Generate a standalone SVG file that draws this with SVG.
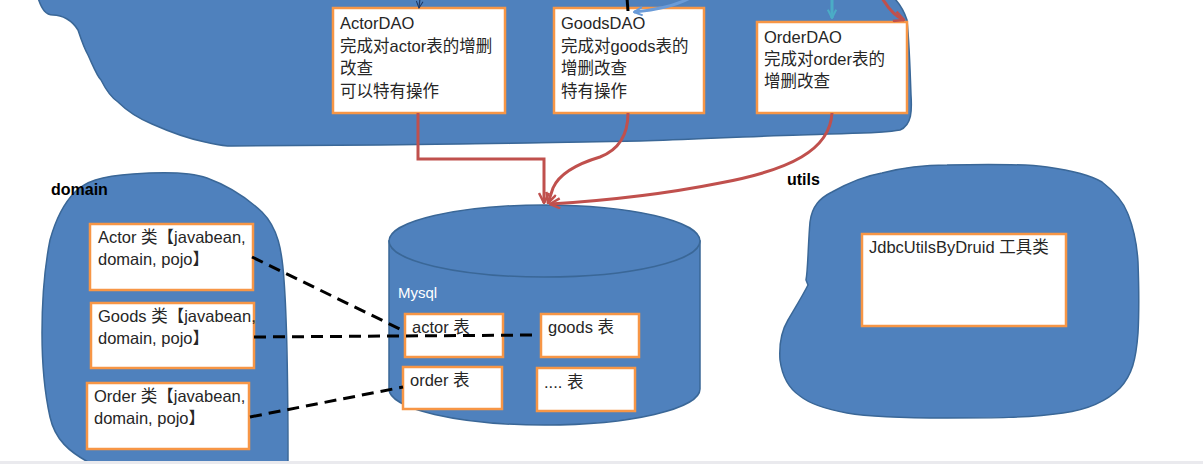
<svg xmlns="http://www.w3.org/2000/svg" width="1203" height="464" viewBox="0 0 1203 464">
<style>
.blob{fill:#4F81BD;stroke:#3A6797;stroke-width:1.5}
.box{fill:#fff;stroke:#F79646;stroke-width:2.5}
.t{font-family:"Liberation Sans","Noto Sans CJK SC",sans-serif;font-size:16.5px;fill:#262626}
.lbl{font-family:"Liberation Sans","Noto Sans CJK SC",sans-serif;font-size:16px;font-weight:bold;fill:#000}
.red{fill:none;stroke:#C0504D;stroke-width:3}
.dash{fill:none;stroke:#000;stroke-width:3;stroke-dasharray:12 7}
</style>
<defs>
<marker id="ar" viewBox="0 0 12 12" refX="11" refY="6" markerWidth="12" markerHeight="12" markerUnits="userSpaceOnUse" orient="auto">
<path d="M1,1 L11,6 L1,11" fill="none" stroke="#C0504D" stroke-width="2.5"/>
</marker>
<marker id="at" viewBox="0 0 12 12" refX="11" refY="6" markerWidth="10" markerHeight="10" markerUnits="userSpaceOnUse" orient="auto">
<path d="M1,1 L11,6 L1,11" fill="none" stroke="#4BACC6" stroke-width="2.5"/>
</marker>
<marker id="ab" viewBox="0 0 12 12" refX="11" refY="6" markerWidth="10" markerHeight="10" markerUnits="userSpaceOnUse" orient="auto">
<path d="M1,1 L11,6 L1,11" fill="none" stroke="#6A9BD8" stroke-width="2.5"/>
</marker>
<marker id="ad" viewBox="0 0 12 12" refX="11" refY="6" markerWidth="8" markerHeight="8" markerUnits="userSpaceOnUse" orient="auto">
<path d="M1,1 L11,6 L1,11" fill="none" stroke="#1F3864" stroke-width="1.5"/>
</marker>
</defs>
<rect x="0" y="0" width="1203" height="464" fill="#fff"/>

<g id="dao-package">
<path class="blob" d="M38,-2 C42,10 46,15 53,15 C62,15 72,20 78,30 C82,42 84,48 88,55 C94,68 97,76 101,80 C107,92 112,98 118,102 C128,112 140,119 152,124 C170,132 190,139 205,142 C215,144 222,146 232,146 L380,145 C460,144 560,143 640,141 C700,139 757,136 800,135 C840,133 880,134 900,130 C912,125 912,110 911,95 C910,65 909,40 907,20 C903,8 898,2 894,-2 Z"/>
</g>
<g id="actordao">
<rect class="box" x="333" y="8" width="172" height="105"/>
<text class="t" x="340" y="29">ActorDAO</text>
<text class="t" x="340" y="52">完成对actor表的增删</text>
<text class="t" x="340" y="74">改查</text>
<text class="t" x="340" y="97">可以特有操作</text>
</g>
<g id="goodsdao">
<rect class="box" x="554" y="8" width="150" height="105"/>
<text class="t" x="561" y="29">GoodsDAO</text>
<text class="t" x="561" y="52">完成对goods表的</text>
<text class="t" x="561" y="74">增删改查</text>
<text class="t" x="561" y="97">特有操作</text>
</g>
<g id="orderdao">
<rect class="box" x="757" y="22" width="150" height="91"/>
<text class="t" x="764" y="43">OrderDAO</text>
<text class="t" x="764" y="65">完成对order表的</text>
<text class="t" x="764" y="87">增删改查</text>
</g>

<g id="domain-package">
<path class="blob" d="M88,462 C70,452 55,440 50,417 C44,390 42,360 42,333 C42,300 44,270 50,240 C55,222 62,205 75,192 C85,182 100,176 133,174 C160,172 190,172 207,178 C226,185 246,197 262,212 C278,228 282,250 284,280 C287,320 288,400 288,462 Z"/>
<text class="lbl" x="51" y="195">domain</text>
</g>
<g id="actor-class">
<rect class="box" x="90" y="224" width="163" height="66"/>
<text class="t" x="98" y="243">Actor 类【javabean,</text>
<text class="t" x="98" y="265">domain, pojo】</text>
</g>
<g id="goods-class">
<rect class="box" x="91" y="303" width="163" height="65"/>
<text class="t" x="98" y="322">Goods 类【javabean,</text>
<text class="t" x="98" y="344">domain, pojo】</text>
</g>
<g id="order-class">
<rect class="box" x="87" y="383" width="162" height="66"/>
<text class="t" x="94" y="402">Order 类【javabean,</text>
<text class="t" x="94" y="424">domain, pojo】</text>
</g>

<g id="mysql">
<path class="blob" d="M389,241 L389,389 A155.5,36 0 0 0 700,389 L700,241 Z"/>
<ellipse class="blob" cx="544.5" cy="241" rx="155.5" ry="36"/>
<text x="398" y="298" style="font-family:'Liberation Sans','Noto Sans CJK SC',sans-serif;font-size:15px;fill:#fff">Mysql</text>
</g>
<g id="actor-table">
<rect class="box" x="405" y="314" width="98" height="43"/>
<text class="t" x="412" y="333">actor 表</text>
</g>
<g id="goods-table">
<rect class="box" x="541" y="314" width="98" height="43"/>
<text class="t" x="548" y="333">goods 表</text>
</g>
<g id="order-table">
<rect class="box" x="403" y="367" width="99" height="42"/>
<text class="t" x="410" y="386">order 表</text>
</g>
<g id="more-table">
<rect class="box" x="537" y="368" width="98" height="43"/>
<text class="t" x="544" y="388">.... 表</text>
</g>

<g id="utils-package">
<path class="blob" d="M947,165 C990,164 1025,164 1047,167 C1075,171 1092,176 1102,182 C1115,192 1124,203 1128,214 C1135,232 1137,245 1138,262 C1139,290 1139,315 1138,333 C1136,360 1132,375 1120,388 C1105,403 1085,410 1063,413 C1030,418 990,418 947,418 C905,418 870,417 847,413 C825,409 810,404 800,396 C788,388 782,375 780,360 C779,345 782,330 788,320 C795,308 803,295 808,285 L806,280 C808,270 808,245 810,222 C812,206 820,198 832,192 C850,182 865,176 882,173 C905,167 925,165 947,165 Z"/>
<text class="lbl" x="787" y="185">utils</text>
</g>
<g id="jdbcutils">
<rect class="box" x="862" y="234" width="204" height="92"/>
<text class="t" x="869" y="253">JdbcUtilsByDruid 工具类</text>
</g>

<g id="connectors">
<path class="red" d="M418,113 L418,159 L544,159 L544,203" marker-end="url(#ar)"/>
<path class="red" d="M628,113 C628,135 618,150 600,157 C580,163 560,172 553,188 L548,203" marker-end="url(#ar)"/>
<path class="red" d="M832,113 C830,150 790,170 720,183 C660,195 600,201 550,204" marker-end="url(#ar)"/>
<path class="dash" d="M252,257 L404,331"/>
<path class="dash" d="M254,337 L536,335"/>
<path class="dash" d="M250,417 L403,387"/>
<path d="M420,-2 L419,8" fill="none" stroke="#1F3864" stroke-width="1.2" marker-end="url(#ad)"/>
<path d="M627,-2 L628,11" fill="none" stroke="#000" stroke-width="3"/>
<path d="M690,-2 C675,6 655,10 634,12" fill="none" stroke="#6A9BD8" stroke-width="3" marker-end="url(#ab)"/>
<path d="M832,-2 L832,18" fill="none" stroke="#4BACC6" stroke-width="3" marker-end="url(#at)"/>
<path d="M882,-2 C888,8 894,16 904,20" fill="none" stroke="#C0504D" stroke-width="3" marker-end="url(#ar)"/>
</g>
<rect x="0" y="461" width="1203" height="3" fill="#EAEAEE"/>
</svg>
